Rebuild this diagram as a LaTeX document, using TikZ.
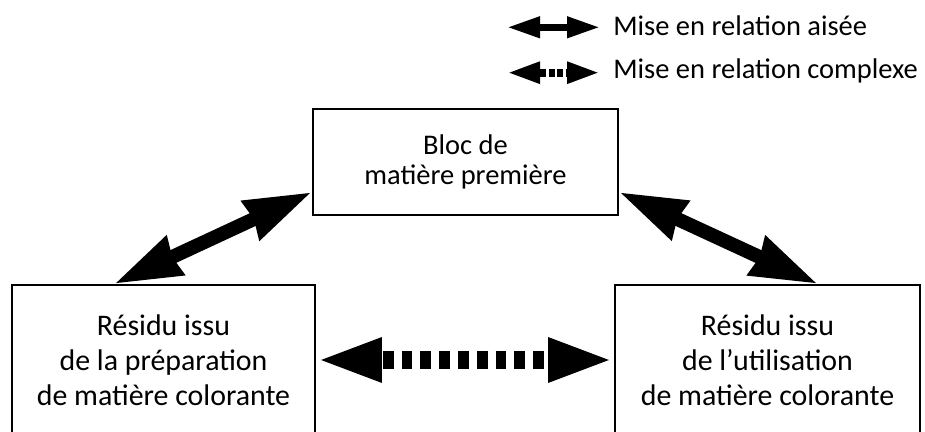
\documentclass[tikz,border=0pt]{standalone}
\usepackage{fontspec}
\setmainfont{Carlito}
\usetikzlibrary{arrows.meta}

\begin{document}
\begin{tikzpicture}[
    box/.style={draw, line width=1.1pt, align=center, inner sep=0pt},
    toptext/.style={font=\fontsize{16.2}{16.7}\selectfont},
    bottext/.style={font=\fontsize{17}{19.9}\selectfont},
    easy/.style={line width=0.28cm, >={Stealth[length=1.32cm, width=0.8cm, inset=0.04cm]}},
    hard/.style={line width=0.36cm, dash pattern=on 0.214cm off 0.162cm, dash phase=0.276cm,
        >={Stealth[length=1.32cm, width=0.8cm, inset=0pt]}},
    easykey/.style={line width=0.14cm, >={Stealth[length=0.66cm, width=0.4cm, inset=0pt]}},
    hardkey/.style={line width=0.16cm, dash pattern=on 0.12cm off 0.05cm, dash phase=0.13cm,
        >={Stealth[length=0.66cm, width=0.4cm, inset=0pt]}},
    keytext/.style={anchor=base west, inner sep=0pt, font=\fontsize{16.2}{17.2}\selectfont}
]
    \path[use as bounding box, clip] (0,0) rectangle (18.5,8.64);

    % Legend
    \coordinate (k1a) at (10.14, 8.094);
    \coordinate (k1b) at (12.0, 8.094);
    \coordinate (k2a) at (10.14, 7.186);
    \coordinate (k2b) at (12.0, 7.186);
    \draw[easykey, <->] (k1a) -- (k1b);
    \draw[hardkey, <->] (k2a) -- (k2b);
    \node[keytext] (keyeasy) at (12.26, 7.92) {Mise en relation aisée};
    \node[keytext] (keyhard) at (12.26, 7.074) {Mise en relation complexe};

    % Boxes
    \node[box, toptext, minimum width=6.1cm, minimum height=2.12cm] (bloc) at (9.31, 5.4)
        {Bloc de\\matière première};
    \node[box, bottext, minimum width=6.06cm, minimum height=3cm] (prep) at (3.27, 1.44)
        {Résidu issu\\de la préparation\\de matière colorante};
    \node[box, bottext, minimum width=6.1cm, minimum height=3cm] (util) at (15.35, 1.44)
        {Résidu issu\\de l’utilisation\\de matière colorante};

    % Relations
    \draw[easy, <->] ([xshift=2.06cm]prep.north west) -- ([yshift=-1.68cm]bloc.north west);
    \draw[easy, <->] ([yshift=-1.68cm]bloc.north east) -- ([xshift=-2.06cm]util.north east);
    \draw[hard, <->] (prep.east) -- (util.west);
\end{tikzpicture}
\end{document}
